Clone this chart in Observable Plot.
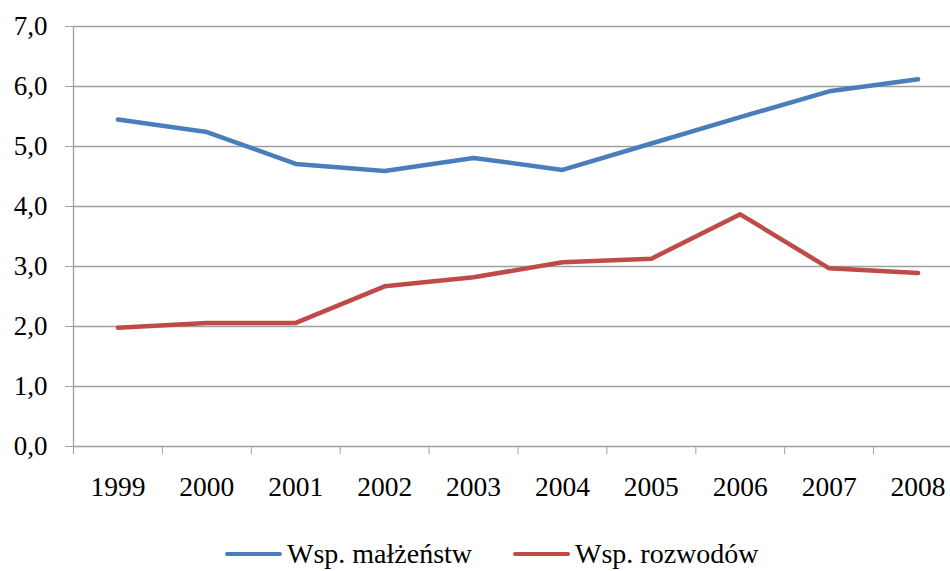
<!DOCTYPE html>
<html>
<head>
<meta charset="utf-8">
<script src="https://cdn.jsdelivr.net/npm/d3@7"></script>
<script src="https://cdn.jsdelivr.net/npm/@observablehq/plot@0.6"></script>
<style>
  html, body { margin: 0; padding: 0; background: #fff; }
  #wrap { position: relative; width: 950px; height: 571px; overflow: hidden; font-family: "Liberation Serif", "Times New Roman", serif; }
  #legend { position: absolute; left: 0; top: 538px; width: 950px; height: 33px; }
  .item { position: absolute; top: 0; display: flex; align-items: center; font-size: 28px; line-height: 32px; color: #000; white-space: nowrap; }
  .sw { display: inline-block; width: 57px; height: 4px; border-radius: 2px; margin-right: 5px; }
</style>
</head>
<body>
<div id="wrap">
  <div id="chart"></div>
  <div id="legend"></div>
</div>
<script>
const years = ["1999","2000","2001","2002","2003","2004","2005","2006","2007","2008"];
const malzenstw = [5.45, 5.24, 4.71, 4.59, 4.81, 4.61, 5.05, 5.49, 5.92, 6.12];
const rozwodow  = [1.98, 2.06, 2.06, 2.67, 2.82, 3.07, 3.13, 3.87, 2.97, 2.89];
const seriesNames = ["Wsp. małżeństw", "Wsp. rozwodów"];
const seriesColors = ["#4a7ebb", "#be4b48"];
const yTicks = [0, 1, 2, 3, 4, 5, 6, 7];

const data = [];
years.forEach((y, i) => {
  data.push({i, year: y, value: malzenstw[i], series: seriesNames[0]});
  data.push({i, year: y, value: rozwodow[i], series: seriesNames[1]});
});
const idx = d3.range(years.length);
const bounds = d3.range(years.length + 1).map(k => k - 0.5);

const chart = Plot.plot({
  width: 950,
  height: 520,
  marginLeft: 73,
  marginRight: 0,
  marginTop: 26,
  marginBottom: 74,
  style: {fontFamily: "'Liberation Serif', 'Times New Roman', serif", fontSize: "27px", color: "#000", background: "#fff"},
  x: {type: "linear", domain: [-0.5, years.length - 0.5], range: [73, 962]},
  y: {domain: [0, 7], range: [446, 26]},
  color: {domain: seriesNames, range: seriesColors},
  marks: [
    Plot.ruleY(yTicks, {stroke: "#a0a0a0", strokeWidth: 1.3}),
    Plot.ruleX([-0.5], {stroke: "#a0a0a0", strokeWidth: 1.3}),
    Plot.axisY(yTicks, {tickSize: 8, tickPadding: 18, stroke: "#a0a0a0", tickFormat: d => d.toFixed(1).replace(".", ","), fontSize: 27, label: null}),
    Plot.axisX(bounds, {tickSize: 8, stroke: "#a0a0a0", tickFormat: () => "", label: null}),
    Plot.axisX(idx, {tickSize: 0, tickPadding: 30, tickFormat: i => years[i], fontSize: 27.5, label: null}),
    Plot.line(data, {x: "i", y: "value", z: "series", stroke: "series", strokeWidth: 4.5, strokeLinecap: "round", strokeLinejoin: "round"})
  ]
});
document.getElementById("chart").appendChild(chart);

const legend = document.getElementById("legend");
const lx = [225, 513];
seriesNames.forEach((name, k) => {
  const it = document.createElement("div");
  it.className = "item";
  it.style.left = lx[k] + "px";
  const sw = document.createElement("span");
  sw.className = "sw";
  sw.style.background = seriesColors[k];
  it.appendChild(sw);
  it.appendChild(document.createTextNode(name));
  legend.appendChild(it);
});
</script>
</body>
</html>
